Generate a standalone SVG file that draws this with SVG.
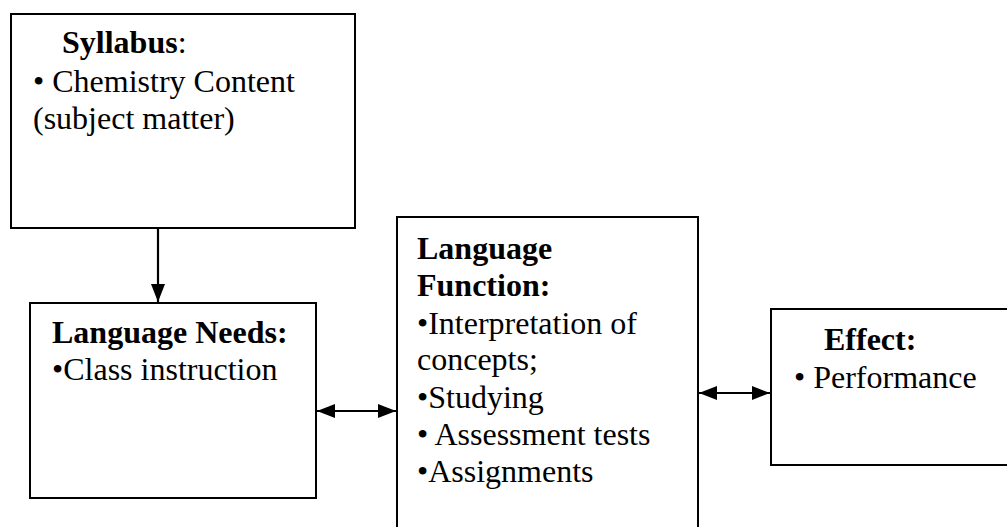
<svg xmlns="http://www.w3.org/2000/svg" width="1007" height="527" viewBox="0 0 1007 527">
<style>
.box{fill:#fff;stroke:#000;stroke-width:2}
.t{font-family:"Liberation Serif","Times New Roman",serif;font-size:32px;fill:#000}
.b{font-weight:bold}
.c{stroke:#000;stroke-width:2.2;fill:none}
</style>
<defs>
<marker id="ah" viewBox="0 0 18 14" refX="18" refY="7" markerWidth="18" markerHeight="14" markerUnits="userSpaceOnUse" orient="auto-start-reverse">
<path d="M0,0 L18,7 L0,14 z" fill="#000"/>
</marker>
</defs>
<rect width="1007" height="527" fill="#fff"/>
<g id="syllabus">
<rect class="box" x="11" y="14" width="344" height="214"/>
<text class="t" x="62" y="53"><tspan class="b">Syllabus</tspan>:</text>
<text class="t" x="33" y="92">• Chemistry Content</text>
<text class="t" x="33" y="129">(subject matter)</text>
</g>
<g id="needs">
<rect class="box" x="30" y="303" width="286" height="195"/>
<text class="t b" x="52" y="343">Language Needs:</text>
<text class="t" x="52" y="380">•Class instruction</text>
</g>
<g id="function">
<rect class="box" x="397" y="217" width="301" height="330"/>
<text class="t b" x="417" y="259">Language</text>
<text class="t b" x="417" y="296">Function:</text>
<text class="t" x="417" y="334">•Interpretation of</text>
<text class="t" x="417" y="370">concepts;</text>
<text class="t" x="417" y="408">•Studying</text>
<text class="t" x="417" y="445">• Assessment tests</text>
<text class="t" x="417" y="482">•Assignments</text>
</g>
<g id="effect">
<rect class="box" x="771" y="309" width="250" height="156"/>
<text class="t b" x="824" y="350">Effect:</text>
<text class="t" x="794" y="388">• Performance</text>
</g>
<g id="connectors">
<line class="c" x1="158" y1="229" x2="158" y2="302" marker-end="url(#ah)"/>
<line class="c" x1="317" y1="411" x2="396" y2="411" marker-start="url(#ah)" marker-end="url(#ah)"/>
<line class="c" x1="699" y1="393" x2="770" y2="393" marker-start="url(#ah)" marker-end="url(#ah)"/>
</g>
</svg>
